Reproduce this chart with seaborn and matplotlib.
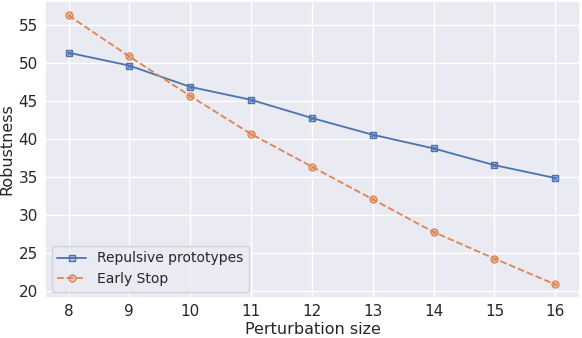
import matplotlib
matplotlib.use("Agg")
import matplotlib.pyplot as plt
import seaborn as sns
import pandas as pd

sizes = [8, 9, 10, 11, 12, 13, 14, 15, 16]
repulsive = [51.3, 49.6, 46.8, 45.1, 42.7, 40.5, 38.7, 36.5, 34.8]
early_stop = [56.2, 50.8, 45.6, 40.6, 36.3, 32.0, 27.7, 24.2, 20.8]
series_names = ["Repulsive prototypes", "Early Stop"]

sns.set_theme(style="darkgrid")
pal = sns.color_palette("deep")

fig, ax = plt.subplots(figsize=(5.82, 3.38), dpi=100)

df = pd.DataFrame({"size": sizes * 2,
                   "rob": repulsive + early_stop,
                   "series": [series_names[0]] * len(sizes) + [series_names[1]] * len(sizes)})

styles = [("s", "-"), ("o", "--")]
for i, name in enumerate(series_names):
    sub = df[df.series == name]
    m, ls = styles[i]
    ax.plot(sub["size"], sub["rob"], linestyle=ls, color=pal[i], lw=1.3,
            marker=m, markersize=5, markerfacecolor=(*pal[i], 0.3),
            markeredgecolor=pal[i], markeredgewidth=1.0, label=name)
    ax.plot(sub["size"], sub["rob"], linestyle="none", color=pal[i],
            marker="x", markersize=3.2, markeredgewidth=0.8)

ax.set_xlim(7.62, 16.41)
ax.set_ylim(19.0, 58.1)
ax.set_xticks(sizes)
ax.set_yticks([20, 25, 30, 35, 40, 45, 50, 55])
ax.tick_params(axis="x", labelsize=11, length=0, pad=4.5)
ax.tick_params(axis="y", labelsize=11, length=0, pad=5.5)
ax.set_xlabel("Perturbation size", fontsize=11.5, labelpad=2)
ax.set_ylabel("Robustness", fontsize=11.5, labelpad=3)
ax.legend(loc="lower left", fontsize=10, borderaxespad=0.45, handlelength=2.1)

fig.subplots_adjust(left=0.078, right=0.997, top=0.997, bottom=0.118)
fig.savefig("out.png", dpi=100)
